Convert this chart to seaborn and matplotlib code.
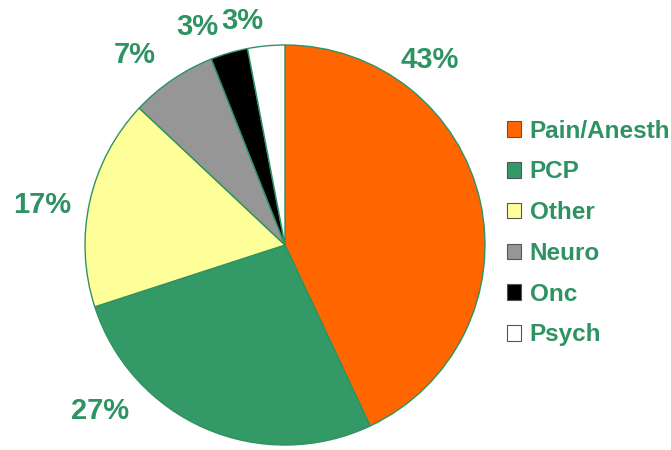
import matplotlib
matplotlib.use("Agg")
import matplotlib.pyplot as plt
import seaborn as sns
from matplotlib.patches import Patch

# data
specialties = ["Pain/Anesth", "PCP", "Other", "Neuro", "Onc", "Psych"]
shares = [43, 27, 17, 7, 3, 3]
colors = ["#FF6600", "#339966", "#FFFF99", "#969696", "#000000", "#FFFFFF"]

# label spots (pie radius = 1)
label_xy = [(0.725, 0.925), (-0.925, -0.83), (-1.215, 0.2),
            (-0.75, 0.95), (-0.44, 1.09), (-0.215, 1.12)]

sns.set_style("white")
plt.rcParams['font.family'] = ['Liberation Sans', 'DejaVu Sans']
green = "#2F9262"

fig = plt.figure(figsize=(6.71, 4.5), dpi=100)
ax = fig.add_axes([85/671, 5/450, 400/671, 400/450])

wedges, _ = ax.pie(shares, colors=colors, startangle=90, counterclock=False,
                   wedgeprops=dict(edgecolor=green, linewidth=1.0))
ax.set_xlim(-1, 1)
ax.set_ylim(-1, 1)
ax.set_aspect('equal')
ax.axis('off')

for (x, y), v in zip(label_xy, shares):
    ax.text(x, y, f"{v}%", ha='center', va='center', fontsize=21,
            fontweight='bold', color=green, clip_on=False)

handles = [Patch(facecolor=c, edgecolor='#555555', linewidth=0.8) for c in colors]
leg = fig.legend(handles, specialties, loc='upper left', bbox_to_anchor=(497/671, 1 - 110/450),
                 frameon=False, fontsize=17.5, labelspacing=0.73, handlelength=0.6,
                 handleheight=0.6, handletextpad=0.35, borderaxespad=0)
for t in leg.get_texts():
    t.set_color(green)
    t.set_fontweight('bold')

fig.savefig("out.png", dpi=100)
